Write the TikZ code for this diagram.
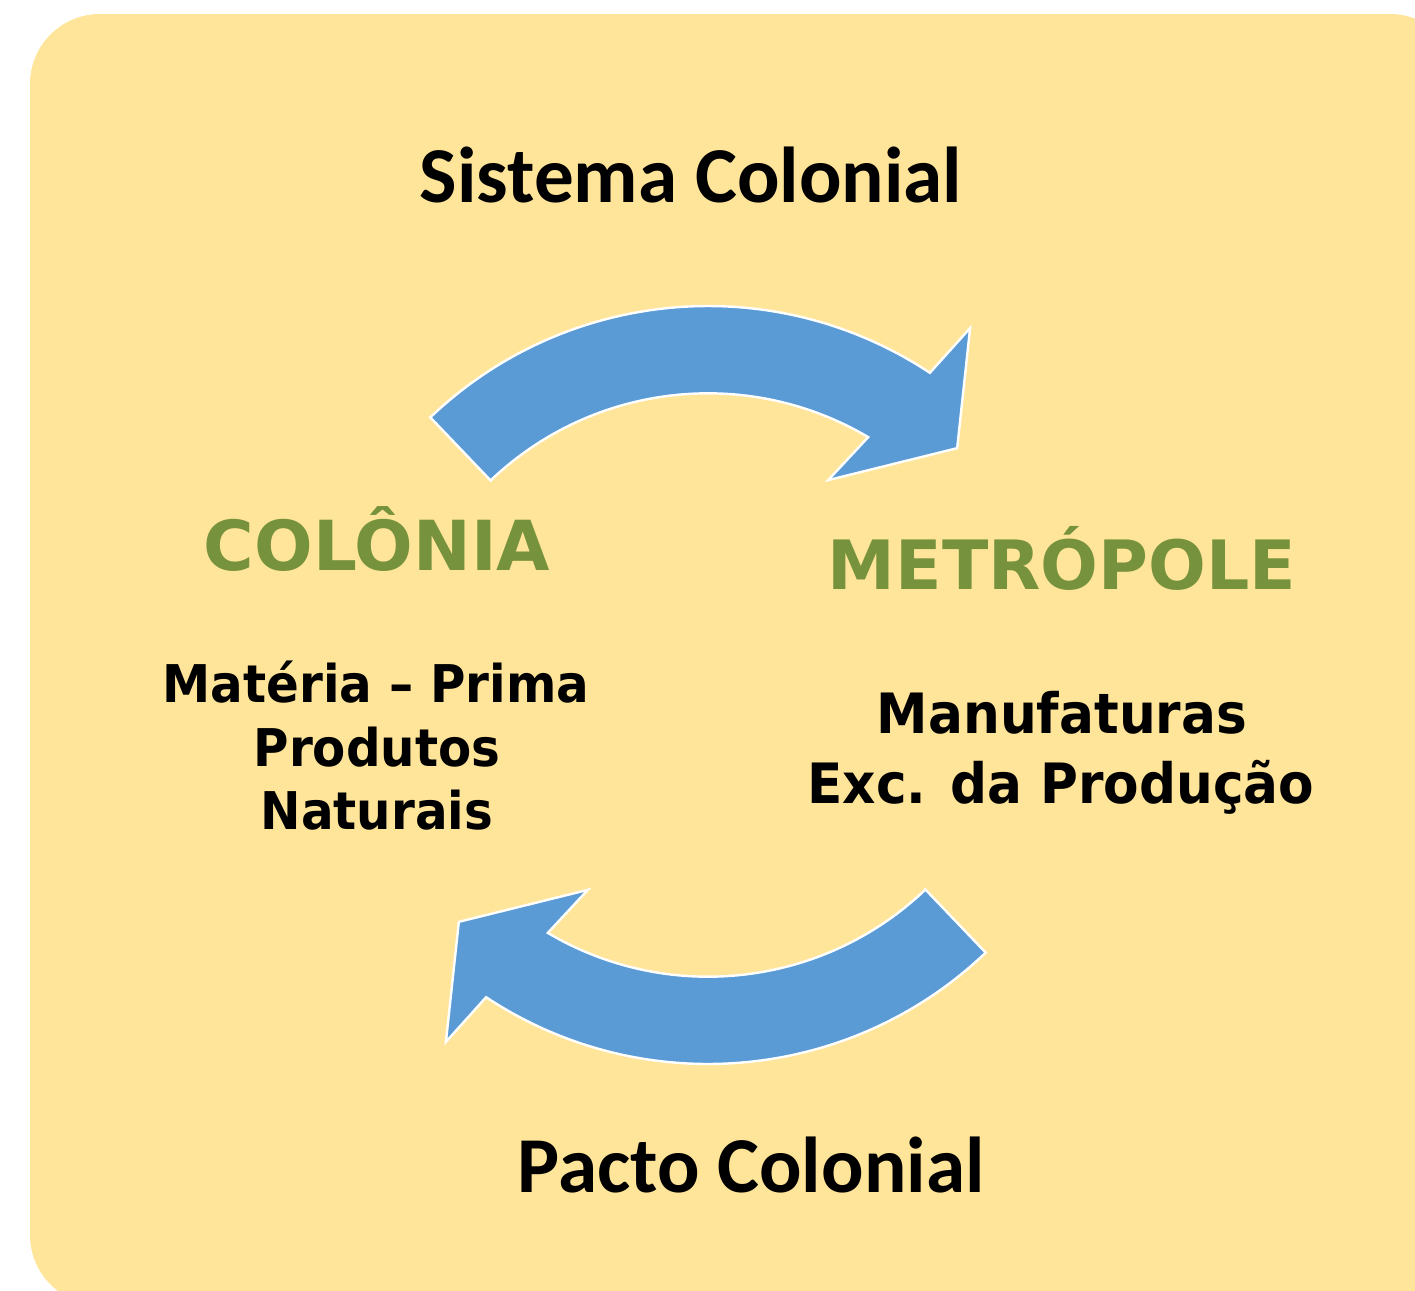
\documentclass[tikz,border=0pt]{standalone}
\usepackage{fontspec}
\setmainfont{DejaVu Sans}
\newfontfamily\calibrifont{Carlito}
\newfontfamily\bodyfont[FakeStretch=0.93]{DejaVu Sans}
\definecolor{bgyellow}{HTML}{FFE599}
\definecolor{arrowblue}{HTML}{5B9BD5}
\definecolor{labelgreen}{HTML}{76923C}
\begin{document}
\begin{tikzpicture}[x=0.5pt,y=-0.5pt,
  titletext/.style={font=\calibrifont\bfseries\fontsize{39.6}{47}\selectfont, text=black, inner sep=0pt, anchor=base},
  placetext/.style={font=\bfseries\fontsize{34.5}{40}\selectfont, text=labelgreen, inner sep=0pt, anchor=base},
  lefttext/.style={font=\bodyfont\bfseries\fontsize{26}{31}\selectfont, text=black, inner sep=0pt, anchor=base},
  righttext/.style={font=\bodyfont\bfseries\fontsize{27.8}{33}\selectfont, text=black, inner sep=0pt, anchor=base},
  cyclearrow/.style={fill=arrowblue, draw=white, line width=1.2pt, line join=miter}]
\useasboundingbox (0,0) rectangle (1415,1291);
\clip (0,0) rectangle (1415,1291);
\fill[white] (0,0) rectangle (1415,1291);
\fill[bgyellow, rounded corners=35pt] (30,14) rectangle (1460,1305);

% top arrow (colonia -> metropole)
\begin{scope}[shift={(708,708)}]
\path[cyclearrow] (133.7:201pt) arc[start angle=133.7, end angle=56.5, radius=201pt]
  -- (55.4:230.8pt) -- (46.2:180pt) -- (62.2:128.8pt) -- (59.4:157.35pt)
  arc[start angle=59.4, end angle=133.7, radius=157.35pt] -- cycle;
\end{scope}

% bottom arrow (metropole -> colonia)
\begin{scope}[shift={(708,662)}, rotate=180]
\path[cyclearrow] (133.7:201pt) arc[start angle=133.7, end angle=56.5, radius=201pt]
  -- (55.4:230.8pt) -- (46.2:180pt) -- (62.2:128.8pt) -- (59.4:157.35pt)
  arc[start angle=59.4, end angle=133.7, radius=157.35pt] -- cycle;
\end{scope}

\node[titletext] (sistema) at (691,202) {Sistema Colonial};
\node[titletext] (pacto) at (751,1192) {Pacto Colonial};

\node[placetext] (colonia) at (377,570) {COLÔNIA};
\node[placetext, font=\bfseries\fontsize{34}{40}\selectfont] (metropole) at (1062,589) {METRÓPOLE};

\node[lefttext] (materia) at (376,702) {Matéria – Prima};
\node[lefttext] (produtos) at (377,766) {Produtos};
\node[lefttext] (naturais) at (377,829) {Naturais};

\node[righttext] (manufaturas) at (1062,733) {Manufaturas};
\node[righttext] (excedente) at (1061,803) {Exc. da Produção};
\end{tikzpicture}
\end{document}
